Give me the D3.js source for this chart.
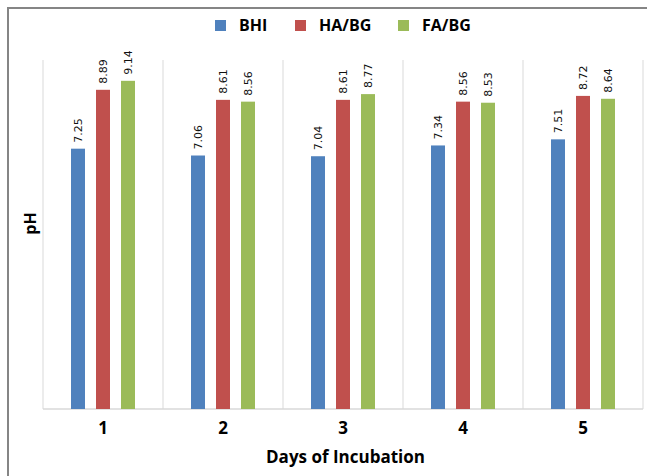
<!DOCTYPE html>
<html><head><meta charset="utf-8">
<script src="https://cdn.jsdelivr.net/npm/d3@7"></script>
<style>body{margin:0;background:#fff}svg{display:block}</style>
</head><body>
<svg id="chart" width="647" height="476"></svg>
<script>
const categories = ["1", "2", "3", "4", "5"];
const seriesNames = ["BHI", "HA/BG", "FA/BG"];
const BHI = [7.25, 7.06, 7.04, 7.34, 7.51];
const HABG = [8.89, 8.61, 8.61, 8.56, 8.72];
const FABG = [9.14, 8.56, 8.77, 8.53, 8.64];
const colors = ["#4F81BD", "#C0504D", "#9BBB59"];
const seriesValues = [BHI, HABG, FABG];

(function () {
const svg = d3.select("#chart");
const pLeft = 43, pRight = 643, pTop = 60, pBottom = 409;
const boldFont = "'Open Sans', sans-serif";

// outer border
svg.append("rect").attr("x", 8).attr("y", 8).attr("width", 700).attr("height", 520)
  .attr("fill", "none").attr("stroke", "#858585").attr("stroke-width", 2);

const x = d3.scaleBand().domain(categories).range([pLeft, pRight]).padding(0);
const xi = d3.scaleBand().domain(seriesNames).range([-37.5, 37.5]).paddingInner(0.44).paddingOuter(0.22);
const y = d3.scaleLinear().domain([0, 9.72]).range([pBottom, pTop]);

// vertical gridlines at category boundaries
const bounds = categories.map(c => x(c)).concat([x(categories[categories.length-1]) + x.bandwidth()]);
svg.append("g").selectAll("line").data(bounds).join("line")
  .attr("x1", d => d).attr("x2", d => d).attr("y1", pTop).attr("y2", pBottom)
  .attr("stroke", "#d9d9d9").attr("stroke-width", 1);

// baseline
svg.append("line").attr("x1", pLeft).attr("x2", pRight).attr("y1", pBottom).attr("y2", pBottom)
  .attr("stroke", "#d9d9d9").attr("stroke-width", 1.5);

// bars
const data = [];
seriesNames.forEach((s, si) => categories.forEach((c, ci) => data.push({s, si, c, v: seriesValues[si][ci]})));
const cx = c => x(c) + x.bandwidth() / 2;

svg.append("g").selectAll("rect").data(data).join("rect")
  .attr("x", d => cx(d.c) + xi(d.s))
  .attr("width", xi.bandwidth())
  .attr("y", d => y(d.v))
  .attr("height", d => y(0) - y(d.v))
  .attr("fill", d => colors[d.si]);

// data labels
svg.append("g").selectAll("text").data(data).join("text")
  .attr("transform", d => `translate(${cx(d.c) + xi(d.s) + xi.bandwidth()/2 + 4},${y(d.v) - 6}) rotate(-90)`)
  .attr("font-family", "DejaVu Sans, sans-serif").attr("font-size", 11).attr("fill", "#111")
  .text(d => d.v.toFixed(2));

// x tick labels
svg.append("g").selectAll("text").data(categories).join("text")
  .attr("x", d => cx(d)).attr("y", 433.5).attr("text-anchor", "middle")
  .attr("font-family", boldFont).attr("font-weight", "bold").attr("font-size", 17).attr("fill", "#000")
  .text(d => d);

// axis titles
svg.append("text").attr("x", 345.5).attr("y", 463).attr("text-anchor", "middle")
  .attr("font-family", boldFont).attr("font-weight", "bold").attr("font-size", 17).attr("fill", "#000")
  .text("Days of Incubation");
svg.append("text").attr("transform", "translate(36,223.5) rotate(-90)").attr("text-anchor", "middle")
  .attr("font-family", boldFont).attr("font-weight", "bold").attr("font-size", 16).attr("fill", "#000")
  .text("pH");

// legend
const legendX = [215, 295, 398];
const lg = svg.append("g").selectAll("g").data(seriesNames).join("g")
  .attr("transform", (d, i) => `translate(${legendX[i]},20)`);
lg.append("rect").attr("width", 11).attr("height", 11).attr("fill", (d, i) => colors[i]);
lg.append("text").attr("x", 24).attr("y", 11)
  .attr("font-family", boldFont).attr("font-weight", "bold").attr("font-size", 16).attr("fill", "#000")
  .text(d => d);
})();
</script>
</body></html>
